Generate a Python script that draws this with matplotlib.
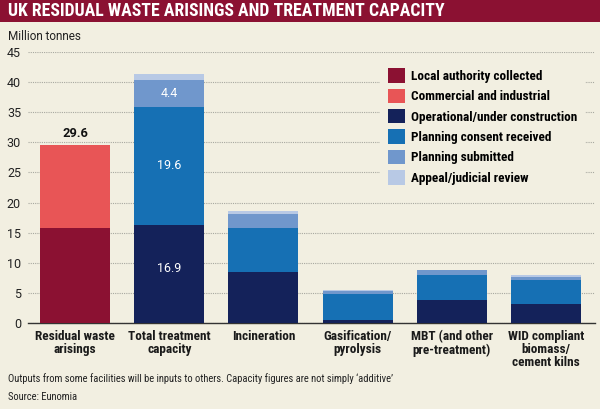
import numpy as np
import matplotlib
matplotlib.use("Agg")
import matplotlib.pyplot as plt
from matplotlib.patches import Rectangle, Patch

BG = "#f2efe1"
COND = "Roboto Condensed"

categories = ["Residual waste\narisings", "Total treatment\ncapacity", "Incineration",
              "Gasification/\npyrolysis", "MBT (and other\npre-treatment)",
              "WID compliant\nbiomass/\ncement kilns"]

# arisings (first bar only)
local_authority = [15.8, 0, 0, 0, 0, 0]
commercial = [13.8, 0, 0, 0, 0, 0]
# treatment capacity
operational = [0, 16.3, 8.45, 0.55, 3.8, 3.15]
consent = [0, 19.6, 7.3, 4.25, 4.2, 3.95]
submitted = [0, 4.4, 2.35, 0.55, 0.9, 0.55]
appeal = [0, 1.05, 0.55, 0.15, 0.0, 0.3]

total_arisings = "29.6"
total_labels = ["16.9", "19.6", "4.4"]

series = [
    ("Local authority collected", local_authority, "#8b1132"),
    ("Commercial and industrial", commercial, "#e85556"),
    ("Operational/under construction", operational, "#14225a"),
    ("Planning consent received", consent, "#1670b4"),
    ("Planning submitted", submitted, "#7097cc"),
    ("Appeal/judicial review", appeal, "#b8c9e5"),
]

fig = plt.figure(figsize=(6, 4.09), dpi=100, facecolor=BG)
W, H = 600, 409

# title banner
fig.patches.append(Rectangle((0, 1 - 22 / H), 1, 22 / H, transform=fig.transFigure,
                             facecolor="#8b1132", edgecolor="none"))
fig.text(8 / W, 1 - 11.5 / H, "UK RESIDUAL WASTE ARISINGS AND TREATMENT CAPACITY",
         color="white", fontsize=12.8, fontweight="bold", va="center", ha="left",
         family=COND)

ax = fig.add_axes([28 / W, 1 - 323.3 / H, (595 - 28) / W, (323.3 - 51.7) / H])
ax.set_facecolor(BG)

x = np.arange(len(categories))
bottom = np.zeros(len(categories))
handles = []
for name, vals, col in series:
    vals = np.array(vals)
    ax.bar(x, vals, 0.743, bottom=bottom, color=col, zorder=3)
    bottom += vals
    handles.append(Patch(facecolor=col, label=name))

ax.set_xlim(-0.5, 5.52)
ax.set_ylim(0, 45)
ax.set_yticks(range(0, 46, 5))
ax.yaxis.grid(True, linestyle=(0, (1, 1)), color="#a8a8a0", linewidth=0.8, zorder=0)
for s in ["top", "right", "left"]:
    ax.spines[s].set_visible(False)
ax.spines["bottom"].set_color("#333333")
ax.spines["bottom"].set_linewidth(1.0)
ax.tick_params(axis="y", length=0, pad=5)
ax.tick_params(axis="x", length=0, pad=5)
ax.set_xticks(x)
ax.set_xticklabels(categories, fontsize=9.5, fontweight="bold", color="#1a1a1a",
                   linespacing=1.0, va="top", family=COND)
for lab in ax.get_yticklabels():
    lab.set_family("Roboto")
    lab.set_fontsize(9)
    lab.set_color("#222222")

# value labels
ax.text(0, local_authority[0] + commercial[0] + 0.8, total_arisings, ha="center", va="bottom",
        fontsize=9.3, fontweight="bold", color="#111111", family="Roboto")
ax.text(1, 9.0, total_labels[0], ha="center", va="center", color="white", fontsize=9,
        family="Roboto", zorder=4)
ax.text(1, operational[1] + consent[1] / 2, total_labels[1], ha="center", va="center",
        color="white", fontsize=9, family="Roboto", zorder=4)
ax.text(1, operational[1] + consent[1] + submitted[1] / 2, total_labels[2], ha="center",
        va="center", color="white", fontsize=9, family="Roboto", zorder=4)

leg = ax.legend(handles=handles, loc="upper left", bbox_to_anchor=(345 / 567, 1 - 2 / 271.6),
                frameon=True, facecolor=BG, edgecolor="none", framealpha=1,
                handlelength=1.3, handleheight=1.3, handletextpad=0.5,
                labelspacing=0.44, borderpad=0.6,
                prop={"weight": "bold", "size": 9.5, "family": COND})
leg.set_zorder(5)

fig.text(8 / W, 1 - 37 / H, "Million tonnes", fontsize=8.5, color="#222222", va="center",
         family="Roboto")
fig.text(8 / W, 1 - 379 / H,
         "Outputs from some facilities will be inputs to others. Capacity figures are not simply \u2018additive\u2019",
         fontsize=7.6, color="#222222", va="center", family=COND)
fig.text(8 / W, 1 - 397.5 / H, "Source: Eunomia", fontsize=7.6, color="#222222", va="center",
         family=COND)

fig.savefig("out.png", dpi=100, facecolor=BG)
